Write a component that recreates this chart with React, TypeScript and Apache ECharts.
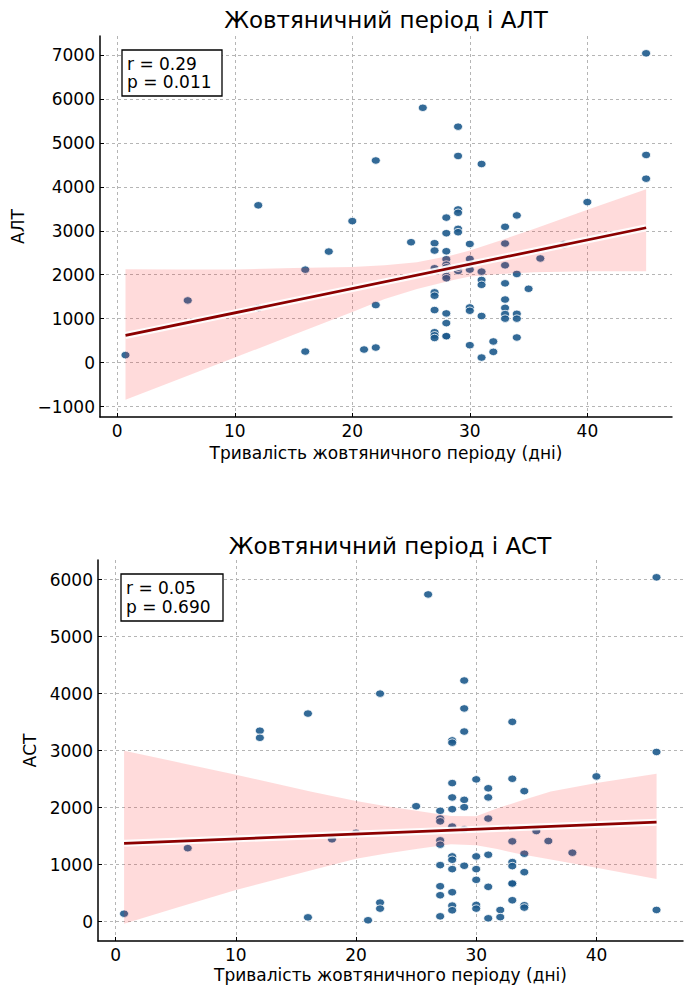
import React, { useEffect, useRef } from 'react'
import * as echarts from 'echarts'

const FONT = 'DejaVu Sans'

// АЛТ vs тривалість жовтяничного періоду
const altDays = [
  0.7, 6, 12, 12, 16, 16, 18, 20, 22, 22, 21, 22,
  45, 26, 29, 29, 31, 45, 45, 40, 34, 29, 29, 28, 33, 29, 29, 28, 25, 27,
  27, 30, 33, 28, 38, 36, 28, 28, 28, 28, 30, 30, 27, 29, 29, 31, 33, 34,
  28, 28, 31, 31, 33, 35, 27, 27, 33, 33, 33, 33, 30, 30, 27, 28, 34, 34,
  31, 28, 27, 27, 27, 28, 28, 34, 30, 32, 32, 31
]
const altValues = [
  170, 1415, 3580, 1240, 2115, 251, 2527, 3220, 4600, 1309, 297, 342,
  7040, 5800, 5370, 4703, 4520, 4726, 4186, 3653, 3350, 3486, 3410, 3300, 3090, 3044, 2968, 2945, 2740, 2717,
  2550, 2700, 2710, 2534, 2690, 2370, 2352, 2230, 2169, 2108, 2360, 2116, 2146, 2085, 2160, 2070, 2215, 2017,
  1970, 1920, 1880, 1770, 1804, 1680, 1598, 1522, 1435, 1245, 1104, 1000, 1256, 1180, 1195, 1119, 1110, 1000,
  1060, 898, 690, 620, 560, 601, 601, 571, 396, 480, 244, 114
]
const altLineX = [0.7, 45]
const altLineY = [617, 3069]
const altBandX = [0.7, 5, 10, 15, 20, 22.75, 25.5, 28.4, 30, 32.6, 35.5, 40, 45]
const altBandLow = [-845, -404, 114, 632, 1150, 1447, 1676, 1866, 1957, 2018, 2056, 2079, 2079]
const altBandHigh = [2125, 2120, 2117, 2150, 2178, 2216, 2285, 2437, 2551, 2780, 3046, 3481, 3945]

// АСТ vs тривалість жовтяничного періоду
const astDays = [
  0.7, 6, 12, 12, 16, 16, 18, 20, 22, 22, 22, 21,
  45, 26, 29, 29, 33, 29, 28, 28, 45, 40, 30, 33, 28, 31, 31, 34, 28, 29,
  29, 25, 28, 27, 27, 27, 31, 28, 29, 35, 27, 27, 33, 36, 38, 34, 31, 30,
  28, 28, 33, 33, 27, 29, 28, 30, 34, 30, 33, 33, 27, 31, 28, 27, 33, 28,
  28, 30, 30, 34, 34, 32, 32, 27, 31, 45
]
const astValues = [
  140, 1290, 3350, 3225, 3650, 76, 1445, 1560, 4000, 335, 229, 25,
  6040, 5740, 4230, 3740, 3505, 3335, 3180, 3140, 2977, 2548, 2496, 2507, 2431, 2340, 2180, 2290, 2179, 2137,
  2008, 2025, 1973, 1945, 1810, 1760, 1809, 1668, 1621, 1590, 1427, 1351, 1409, 1415, 1210, 1192, 1174, 1145,
  1145, 1086, 1045, 975, 992, 981, 922, 922, 869, 734, 669, 669, 622, 611, 517, 464, 376, 282,
  200, 294, 229, 288, 247, 205, 80, 94, 59, 206
]
const astLineX = [0.7, 45]
const astLineY = [1375, 1746]
const astBandX = [0.7, 5, 10, 16.2, 20, 22.4, 25.15, 27.9, 30, 31.75, 33.5, 36.2, 40, 45]
const astBandLow = [-35, 238, 555, 897, 1103, 1192, 1280, 1357, 1339, 1275, 1190, 1090, 944, 749]
const astBandHigh = [2997, 2803, 2578, 2283, 2118, 2029, 1941, 1853, 1850, 1988, 2106, 2283, 2431, 2596]

const xTicks = [0, 10, 20, 30, 40]
const altTicks = [-1000, 0, 1000, 2000, 3000, 4000, 5000, 6000, 7000]
const astTicks = [0, 1000, 2000, 3000, 4000, 5000, 6000]

const fmtNum = (v: number) => (v < 0 ? '\u2212' + Math.abs(v) : String(v))

const labelStyle = { fontFamily: FONT, fontSize: 17, color: '#000', lineHeight: 17 }

const makeX = (gridIndex: number, nameGap: number) => ({
  type: 'value',
  gridIndex,
  min: -1.47,
  max: 47.2,
  name: 'Тривалість жовтяничного періоду (дні)',
  nameLocation: 'middle',
  nameGap,
  nameTextStyle: labelStyle,
  axisLine: { show: true, onZero: false, lineStyle: { color: '#000', width: 1.5 } },
  axisTick: { show: true, inside: true, length: 4, customValues: xTicks, lineStyle: { color: '#000', width: 1 } },
  axisLabel: { ...labelStyle, customValues: xTicks, margin: 5 },
  splitLine: { show: true, lineStyle: { color: '#b5b5b5', type: [3, 3], width: 1 } },
})

const makeY = (gridIndex: number, name: string, min: number, max: number, ticks: number[], nameGap: number) => ({
  type: 'value',
  gridIndex,
  min,
  max,
  name,
  nameLocation: 'middle',
  nameGap,
  nameRotate: 90,
  nameTextStyle: labelStyle,
  axisLine: { show: true, onZero: false, lineStyle: { color: '#000', width: 1.5 } },
  axisTick: { show: true, inside: true, length: 4, customValues: ticks, lineStyle: { color: '#000', width: 1 } },
  axisLabel: { ...labelStyle, customValues: ticks, margin: 5, formatter: fmtNum },
  splitLine: { show: true, lineStyle: { color: '#b5b5b5', type: [3, 3], width: 1 } },
})

const scatterSeries = (idx: number, xs: number[], ys: number[]) => ({
  type: 'scatter',
  xAxisIndex: idx,
  yAxisIndex: idx,
  data: xs.map((x, i) => [x, ys[i]]),
  symbolSize: [9, 7.5],
  itemStyle: { color: '#1d5a8c', opacity: 0.9, borderColor: '#fff', borderWidth: 0.9 },
  z: 2,
})

const bandSeries = (idx: number, xs: number[], lo: number[], hi: number[]) => ({
  type: 'custom',
  xAxisIndex: idx,
  yAxisIndex: idx,
  silent: true,
  data: xs.map((x, i) => [x, lo[i], hi[i]]),
  encode: { x: 0, y: [1, 2] },
  z: 3,
  renderItem: (params: any, api: any) => {
    if (params.dataIndex !== 0) return null
    const upper = xs.map((x, i) => api.coord([x, hi[i]]))
    const lower = xs.map((x, i) => api.coord([x, lo[i]])).reverse()
    return {
      type: 'polygon',
      shape: { points: upper.concat(lower) },
      style: { fill: 'rgba(255, 40, 40, 0.17)' },
    }
  },
})

const lineSeries = (idx: number, xs: number[], ys: number[]) => [
  {
    type: 'line',
    xAxisIndex: idx,
    yAxisIndex: idx,
    data: xs.map((x, i) => [x, ys[i]]),
    symbol: 'none',
    silent: true,
    lineStyle: { color: '#ffffff', width: 7, opacity: 0.9 },
    z: 4,
  },
  {
    type: 'line',
    xAxisIndex: idx,
    yAxisIndex: idx,
    data: xs.map((x, i) => [x, ys[i]]),
    symbol: 'none',
    silent: true,
    lineStyle: { color: '#8b0000', width: 2.8 },
    z: 5,
  },
]

const statBox = (x: number, y: number, w: number, h: number, text: string) => ({
  type: 'group',
  children: [
    { type: 'rect', shape: { x, y, width: w, height: h }, style: { fill: '#fff', stroke: '#000', lineWidth: 1.3 }, z: 10 },
    {
      type: 'text',
      x: x + 5,
      y: y + h / 2,
      z: 11,
      style: { text, font: `17px "${FONT}"`, fill: '#000', verticalAlign: 'middle', lineHeight: 18.5 },
    },
  ],
})

const titleText = (x: number, y: number, text: string) => ({
  type: 'text',
  x,
  y,
  style: { text, font: `23px "${FONT}"`, fill: '#000', align: 'center', verticalAlign: 'middle' },
})

const App: React.FC = () => {
  const chartRef = useRef<HTMLDivElement>(null)

  useEffect(() => {
    document.body.style.margin = '0'
    if (!chartRef.current) return
    const chart = echarts.init(chartRef.current, null, { renderer: 'svg' })

    const option = {
      animation: false,
      backgroundColor: '#fff',
      grid: [
        { left: 100, top: 36, width: 572, height: 381 },
        { left: 98, top: 560, width: 585, height: 381 },
      ],
      xAxis: [makeX(0, 27), makeX(1, 25)],
      yAxis: [
        makeY(0, 'АЛТ', -1239, 7434, altTicks, 74),
        makeY(1, 'АСТ', -339, 6344, astTicks, 60),
      ],
      series: [
        scatterSeries(0, altDays, altValues),
        bandSeries(0, altBandX, altBandLow, altBandHigh),
        ...lineSeries(0, altLineX, altLineY),
        scatterSeries(1, astDays, astValues),
        bandSeries(1, astBandX, astBandLow, astBandHigh),
        ...lineSeries(1, astLineX, astLineY),
      ],
      graphic: [
        titleText(386, 20, 'Жовтяничний період і АЛТ'),
        titleText(390, 546, 'Жовтяничний період і АСТ'),
        statBox(122, 50, 100, 46, 'r = 0.29\np = 0.011'),
        statBox(121, 574, 102, 47, 'r = 0.05\np = 0.690'),
      ],
    }

    chart.setOption(option as any)
    return () => {
      chart.dispose()
    }
  }, [])

  return <div ref={chartRef} style={{ width: '695px', height: '995px' }} />
}

export default App
